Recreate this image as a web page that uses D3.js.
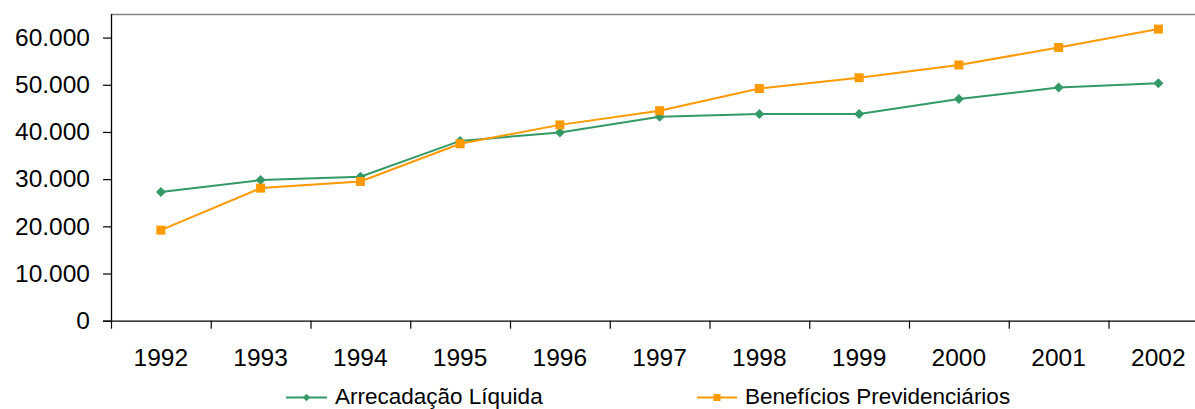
<!DOCTYPE html>
<html>
<head>
<meta charset="utf-8">
<script src="https://cdn.jsdelivr.net/npm/d3@7"></script>
<style>
  html, body { margin: 0; padding: 0; background: #fff; }
  svg { display: block; font-family: "Liberation Sans", Arial, sans-serif; }
</style>
</head>
<body>
<svg id="chart" width="1195" height="409"></svg>
<script>
const years = ["1992","1993","1994","1995","1996","1997","1998","1999","2000","2001","2002"];
const arrecadacao = [27300, 29800, 30500, 38100, 39900, 43200, 43800, 43800, 47000, 49400, 50300];
const beneficios  = [19200, 28100, 29500, 37500, 41500, 44500, 49200, 51500, 54200, 57900, 61800];
const yTicks = [0, 10000, 20000, 30000, 40000, 50000, 60000];
const seriesNames = ["Arrecadação Líquida", "Benefícios Previdenciários"];

(function () {
const svg = d3.select("#chart");
const plotLeft = 111, plotTop = 14, plotBottom = 320.7, step = 99.75;
const plotRight = plotLeft + step * years.length;

const x = d3.scaleBand().domain(years).range([plotLeft, plotRight]).paddingInner(0).paddingOuter(0);
const y = d3.scaleLinear().domain([0, 65000]).range([plotBottom, plotTop]);

const fmt = v => d3.format(",")(v).replace(/,/g, ".");

// top border of plot area
svg.append("line").attr("x1", plotLeft).attr("x2", plotRight).attr("y1", plotTop + 0.5).attr("y2", plotTop + 0.5)
  .attr("stroke", "#888").attr("stroke-width", 1.5);

// y axis
const yAxis = svg.append("g").attr("transform", `translate(${plotLeft},0)`)
  .call(d3.axisLeft(y).tickValues(yTicks).tickFormat(fmt).tickSize(8).tickPadding(13));
yAxis.select(".domain").attr("d", `M0.5,${plotTop}V${plotBottom}`).attr("stroke", "#000").attr("stroke-width", 1.3);
yAxis.selectAll(".tick line").attr("stroke", "#000").attr("stroke-width", 1.2);
yAxis.selectAll("text").attr("font-size", 24.5).attr("fill", "#000").attr("font-family", "Liberation Sans, Arial, sans-serif");

// x axis (category boundaries as ticks)
const xAxisG = svg.append("g").attr("transform", `translate(0,${plotBottom})`);
xAxisG.append("line").attr("x1", plotLeft - 8).attr("x2", plotRight).attr("y1", 0.5).attr("y2", 0.5)
  .attr("stroke", "#000").attr("stroke-width", 1.3);
const bounds = years.map(d => x(d)).concat([plotRight]);
xAxisG.selectAll("line.tk").data(bounds).join("line").attr("class", "tk")
  .attr("x1", d => d + 0.5).attr("x2", d => d + 0.5).attr("y1", 0).attr("y2", 8)
  .attr("stroke", "#000").attr("stroke-width", 1.2);
xAxisG.selectAll("text").data(years).join("text")
  .attr("x", d => x(d) + x.bandwidth() / 2).attr("y", 45.5)
  .attr("text-anchor", "middle").attr("font-size", 24.5).attr("fill", "#000")
  .text(d => d);

const cx = d => x(d) + x.bandwidth() / 2;
const green = "#339966", orange = "#FF9900";

function drawSeries(vals, color, shape, size) {
  const line = d3.line().x((d, i) => cx(years[i])).y(d => y(d));
  svg.append("path").datum(vals).attr("d", line).attr("fill", "none")
    .attr("stroke", color).attr("stroke-width", 2);
  svg.append("g").selectAll("path").data(vals).join("path")
    .attr("transform", (d, i) => `translate(${cx(years[i])},${y(d)})`)
    .attr("d", d3.symbol().type(shape).size(size))
    .attr("fill", color);
}
// diamond: rotated square
const diamond = {
  draw(ctx, size) {
    const r = Math.sqrt(size) / 2 * 1.25;
    ctx.moveTo(0, -r); ctx.lineTo(r, 0); ctx.lineTo(0, r); ctx.lineTo(-r, 0); ctx.closePath();
  }
};
drawSeries(arrecadacao, green, diamond, 64);
drawSeries(beneficios, orange, d3.symbolSquare, 81);

// legend
const legend = [
  {name: seriesNames[0], color: green, shape: diamond, size: 36, x0: 286, x1: 327, tx: 335},
  {name: seriesNames[1], color: orange, shape: d3.symbolSquare, size: 49, x0: 697, x1: 737, tx: 745}
];
const ly = 397.5;
legend.forEach(l => {
  const g = svg.append("g");
  g.append("line").attr("x1", l.x0).attr("x2", l.x1).attr("y1", ly).attr("y2", ly)
    .attr("stroke", l.color).attr("stroke-width", 2);
  g.append("path").attr("transform", `translate(${(l.x0 + l.x1) / 2},${ly})`)
    .attr("d", d3.symbol().type(l.shape).size(l.size)).attr("fill", l.color);
  g.append("text").attr("x", l.tx).attr("y", 404).attr("font-size", 22.5).attr("fill", "#000")
    .text(l.name);
});
})();
</script>
</body>
</html>
